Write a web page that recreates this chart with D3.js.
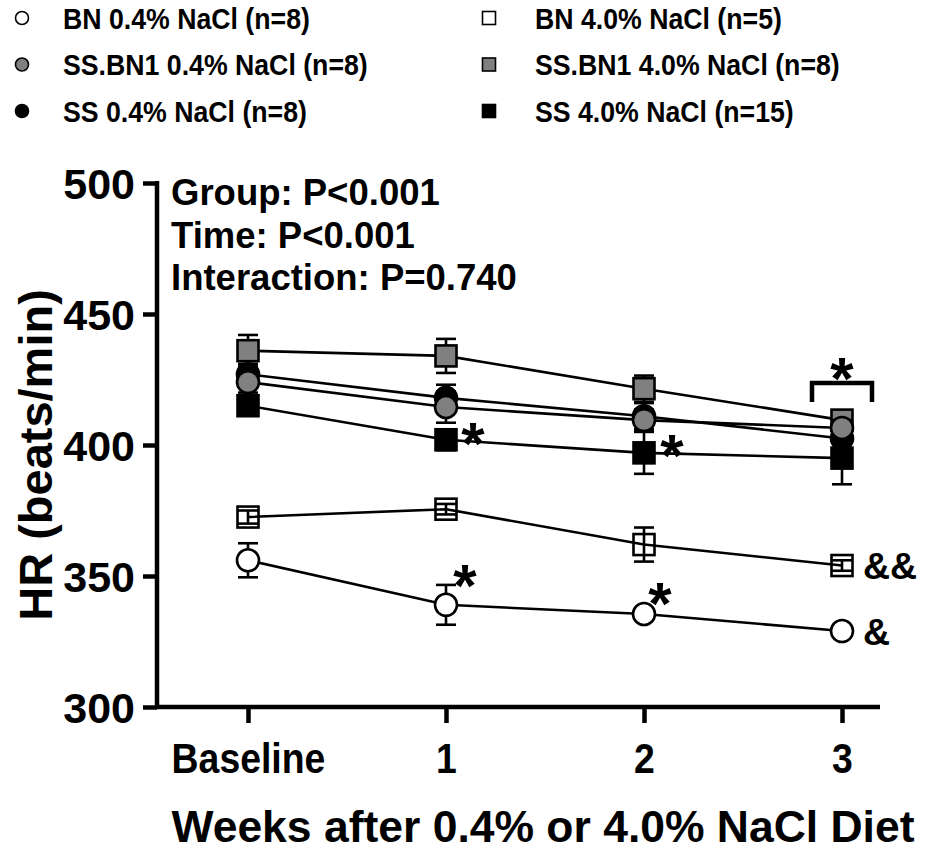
<!DOCTYPE html>
<html>
<head>
<meta charset="utf-8">
<script src="https://cdn.jsdelivr.net/npm/d3@7"></script>
<style>
  html, body { margin: 0; padding: 0; background: #fff; }
  svg { display: block; }
  text { font-family: "Liberation Sans", Arial, sans-serif; font-weight: bold; fill: #000; }
</style>
</head>
<body>
<svg id="chart" width="935" height="853"></svg>
<script>
// Time points
const categories = ["Baseline", "1", "2", "3"];
const yTicks = [300, 350, 400, 450, 500];

// Heart rate means (beats/min) and SEM per group
const bn04 = [356, 339, 335.5, 329];
const bn04Sem = [6.5, 7.6, 2, 1.5];
const bn40 = [372.5, 375.5, 362, 354];
const bn40Sem = [2.5, 2, 6.5, 2];
const ss40 = [415, 402, 397, 395];
const ss40Sem = [3, 4, 8, 10];
const ss04 = [427, 418, 411, 402.5];
const ss04Sem = [4, 5, 5, 4];
const ssbn40 = [436, 434, 421.5, 409.5];
const ssbn40Sem = [6, 6.5, 5, 3];
const ssbn04 = [424, 414.5, 409.5, 406.5];
const ssbn04Sem = [4, 6, 4, 3];

const seriesNames = [
  "BN 0.4% NaCl (n=8)", "BN 4.0% NaCl (n=5)",
  "SS.BN1 0.4% NaCl (n=8)", "SS.BN1 4.0% NaCl (n=8)",
  "SS 0.4% NaCl (n=8)", "SS 4.0% NaCl (n=15)"
];

// Statistics and significance marks
const statLines = ["Group: P<0.001", "Time: P<0.001", "Interaction: P=0.740"];
const starMarks = [
  { cat: "1", value: 351.5, dx: 19 },
  { cat: "2", value: 344.7, dx: 16 },
  { cat: "1", value: 405.7, dx: 27 },
  { cat: "2", value: 401.1, dx: 28 }
];
const bracketMark = { cat: "3", top: 423.7, bottom: 416.4, star: 430.5 };
const ampMarks = [
  { cat: "3", value: 354, label: "&&" },
  { cat: "3", value: 328.6, label: "&" }
];

const GRAY = "#808080";
// draw order: bottom to top
const series = [
  { name: seriesNames[0], values: bn04, sem: bn04Sem, shape: "circle", fill: "#fff" },
  { name: seriesNames[1], values: bn40, sem: bn40Sem, shape: "square", fill: "none" },
  { name: seriesNames[5], values: ss40, sem: ss40Sem, shape: "square", fill: "#000" },
  { name: seriesNames[4], values: ss04, sem: ss04Sem, shape: "circle", fill: "#000" },
  { name: seriesNames[3], values: ssbn40, sem: ssbn40Sem, shape: "square", fill: GRAY },
  { name: seriesNames[2], values: ssbn04, sem: ssbn04Sem, shape: "circle", fill: GRAY }
];

const svg = d3.select("#chart");
const x = d3.scalePoint().domain(categories).range([248, 842]);
const y = d3.scaleLinear().domain([300, 500]).range([707, 183]);

// ---- Legend ----
const legendItems = [
  { name: seriesNames[0], shape: "circle", fill: "#fff", col: 0, row: 0 },
  { name: seriesNames[1], shape: "square", fill: "#fff", col: 1, row: 0 },
  { name: seriesNames[2], shape: "circle", fill: GRAY, col: 0, row: 1 },
  { name: seriesNames[3], shape: "square", fill: GRAY, col: 1, row: 1 },
  { name: seriesNames[4], shape: "circle", fill: "#000", col: 0, row: 2 },
  { name: seriesNames[5], shape: "square", fill: "#000", col: 1, row: 2 }
];
const legend = svg.append("g");
legendItems.forEach(it => {
  const cx = it.col === 0 ? 22 : 489;
  const tx = it.col === 0 ? 63 : 535;
  const cy = 18 + it.row * 46.5;
  if (it.shape === "circle") {
    legend.append("circle").attr("cx", cx).attr("cy", cy).attr("r", 6.5)
      .attr("fill", it.fill).attr("stroke", "#000").attr("stroke-width", 1.6);
  } else {
    legend.append("rect").attr("x", cx - 6.5).attr("y", cy - 6.5).attr("width", 13).attr("height", 13)
      .attr("fill", it.fill).attr("stroke", "#000").attr("stroke-width", 1.6);
  }
  const t = legend.append("text").attr("x", tx).attr("y", cy + 10.5)
    .attr("font-size", 29).text(it.name);
  const w = t.node().getComputedTextLength();
  t.attr("textLength", w * 0.92).attr("lengthAdjust", "spacingAndGlyphs");
});

// ---- Axes ----
const yAxis = svg.append("g").attr("transform", "translate(157,0)")
  .call(d3.axisLeft(y).tickValues(yTicks).tickSize(14).tickPadding(8).tickFormat(d3.format("d")));
yAxis.select(".domain").attr("stroke", "#000").attr("stroke-width", 4.5)
  .attr("d", `M0,${y(500) - 2}V${y(300)}`);
yAxis.selectAll(".tick line").attr("stroke", "#000").attr("stroke-width", 4.5);
yAxis.selectAll(".tick text").attr("font-size", 43).attr("font-family", null)
  .attr("dy", "0.36em").style("font-family", "'Liberation Sans', Arial, sans-serif");

const xAxis = svg.append("g").attr("transform", `translate(0,${y(300)})`)
  .call(d3.axisBottom(x).tickSize(16).tickPadding(10));
xAxis.select(".domain").attr("stroke", "#000").attr("stroke-width", 4.5)
  .attr("d", `M155,0H880`);
xAxis.selectAll(".tick line").attr("stroke", "#000").attr("stroke-width", 4.5);
xAxis.selectAll(".tick text").attr("font-size", 42).attr("font-family", null)
  .style("font-family", "'Liberation Sans', Arial, sans-serif")
  .attr("dy", "0.95em")
  .each(function () {
    const w = this.getComputedTextLength();
    d3.select(this).attr("textLength", w * 0.89).attr("lengthAdjust", "spacingAndGlyphs");
  });

// Axis titles
svg.append("text")
  .attr("transform", `translate(52,${(y(300) + y(500)) / 2 + 10}) rotate(-90)`)
  .attr("text-anchor", "middle").attr("font-size", 47).text("HR (beats/min)");

svg.append("text").attr("x", 543).attr("y", 842)
  .attr("text-anchor", "middle").attr("font-size", 44)
  .attr("textLength", 743).attr("lengthAdjust", "spacingAndGlyphs")
  .text("Weeks after 0.4% or 4.0% NaCl Diet");

// Statistics block
svg.append("g").selectAll("text").data(statLines).join("text")
  .attr("x", 171).attr("y", (d, i) => 205 + i * 42.5)
  .attr("font-size", 36.5).text(d => d);

// ---- Data ----
const plot = svg.append("g");
const line = d3.line().x((d, i) => x(categories[i])).y(d => y(d));

// connecting lines under everything
series.forEach(s => {
  plot.append("path").datum(s.values).attr("d", line)
    .attr("fill", "none").attr("stroke", "#000").attr("stroke-width", 2.6);
});

// error bars + markers per series
series.forEach(s => {
  const g = plot.append("g");
  s.values.forEach((v, i) => {
    const cx = x(categories[i]);
    const e = s.sem[i];
    g.append("line").attr("x1", cx).attr("x2", cx).attr("y1", y(v + e)).attr("y2", y(v - e))
      .attr("stroke", "#000").attr("stroke-width", 2.6);
    [v + e, v - e].forEach(b => {
      g.append("line").attr("x1", cx - 10).attr("x2", cx + 10).attr("y1", y(b)).attr("y2", y(b))
        .attr("stroke", "#000").attr("stroke-width", 2.6);
    });
  });
  s.values.forEach((v, i) => {
    const cx = x(categories[i]);
    if (s.shape === "circle") {
      g.append("circle").attr("cx", cx).attr("cy", y(v)).attr("r", 11)
        .attr("fill", s.fill).attr("stroke", "#000").attr("stroke-width", 2.6);
    } else {
      g.append("rect").attr("x", cx - 10.5).attr("y", y(v) - 10.5).attr("width", 21).attr("height", 21)
        .attr("fill", s.fill).attr("stroke", "#000").attr("stroke-width", 2.6);
    }
  });
});

// ---- Significance marks ----
const ann = svg.append("g");
starMarks.forEach(m => {
  ann.append("text").attr("x", x(m.cat) + m.dx).attr("y", y(m.value) + 34)
    .attr("text-anchor", "middle").attr("font-size", 60).text("*");
});
const bx = x(bracketMark.cat);
ann.append("path")
  .attr("d", `M${bx - 30},${y(bracketMark.bottom)}V${y(bracketMark.top)}H${bx + 30}V${y(bracketMark.bottom)}`)
  .attr("fill", "none").attr("stroke", "#000").attr("stroke-width", 4.5);
ann.append("text").attr("x", bx).attr("y", y(bracketMark.star) + 34)
  .attr("text-anchor", "middle").attr("font-size", 60).text("*");
ampMarks.forEach(m => {
  ann.append("text").attr("x", x(m.cat) + 21).attr("y", y(m.value) + 13)
    .attr("font-size", 37.5).text(m.label);
});
</script>
</body>
</html>
